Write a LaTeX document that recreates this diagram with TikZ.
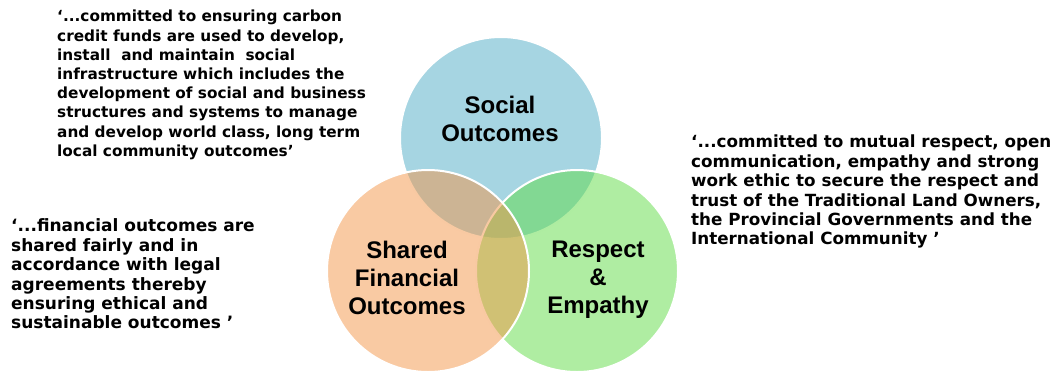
\documentclass[tikz,border=0pt]{standalone}
\usepackage{fontspec}
\setmainfont{DejaVu Sans}
\newfontfamily\labfont{Liberation Sans}
\definecolor{cblue}{RGB}{77,171,197}
\definecolor{cgreen}{RGB}{95,219,69}
\definecolor{corange}{RGB}{243,149,71}
\begin{document}
\begin{tikzpicture}[x=1pt,y=-1pt,
  venn/.style={circle,minimum size=202pt,inner sep=0pt,draw=white,line width=2pt,fill opacity=0.5},
  quote/.style={anchor=north west,inner sep=0pt,align=left,font=\fontsize{15.3}{19.2}\selectfont\bfseries},
  bigquote/.style={quote,font=\fontsize{17}{19.4}\selectfont\bfseries},
  rquote/.style={quote,font=\fontsize{16.75}{19.4}\selectfont\bfseries},
  lab/.style={anchor=north,inner sep=0pt,align=center,font=\fontsize{24}{28}\selectfont\labfont\bfseries}]
\useasboundingbox (0,0) rectangle (1055,373);
\node[venn,fill=cblue] (soc) at (501,138) {};
\node[venn,fill=cgreen] (res) at (577,271) {};
\node[venn,fill=corange] (fin) at (428,271) {};
\node[lab] (soclab) at (500,95.5) {Social\\Outcomes};
\node[lab] (finlab) at (407,240.5) {Shared\\Financial\\Outcomes};
\node[lab] (reslab) at (598,240.5) {Respect\\\&\\Empathy};
\node[quote] (q1) at (57,10) {‘...committed to ensuring carbon\\credit funds are used to develop,\\install\hspace{0.35em} and maintain\hspace{0.35em} social\\infrastructure which includes the\\development of social and business\\structures and systems to manage\\and develop world class, long term\\local community outcomes’};
\node[rquote] (q2) at (691,134.9) {‘...committed to mutual respect, open\\communication, empathy and strong\\work ethic to secure the respect and\\trust of the Traditional Land Owners,\\the Provincial Governments and the\\International Community ’};
\node[bigquote] (q3) at (11,218.7) {‘...financial outcomes are\\shared fairly and in\\accordance with legal\\agreements thereby\\ensuring ethical and\\sustainable outcomes ’};
\end{tikzpicture}
\end{document}
